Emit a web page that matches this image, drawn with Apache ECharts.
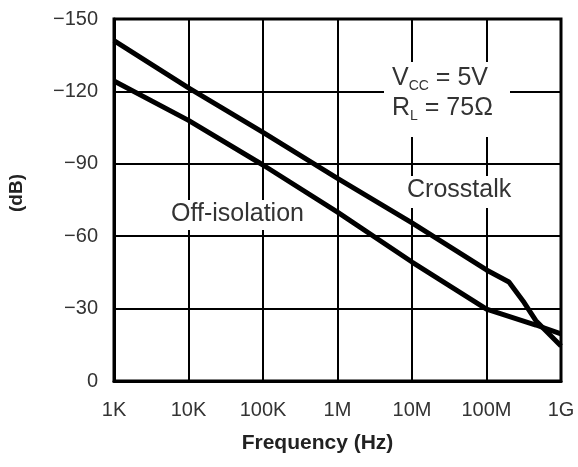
<!DOCTYPE html>
<html>
<head>
<meta charset="utf-8">
<script src="https://cdn.jsdelivr.net/npm/echarts@6/dist/echarts.min.js"></script>
<style>
html,body{margin:0;padding:0;background:#fff;}
#chart{width:578px;height:467px;}
</style>
</head>
<body>
<div id="chart"></div>
<script>
// Frequency (Hz) sample points and values (dB)
const crosstalkFreq = [1e3, 1e4, 1e5, 1e6, 1e7, 1e8, 2e8, 3.2e8, 4.6e8, 1e9];
const crosstalkDb   = [-141, -121.5, -103, -84, -65.5, -46, -41, -32.5, -25, -14.5];
const offIsoFreq = [1e3, 1e4, 1e5, 1e6, 1e7, 1e8, 4.6e8, 1e9];
const offIsoDb   = [-124.3, -108, -89.5, -70, -49.3, -29.8, -23.2, -19.5];
const xTickLabels = {1e3:'1K',1e4:'10K',1e5:'100K',1e6:'1M',1e7:'10M',1e8:'100M',1e9:'1G'};
const yTicks = [-150, -120, -90, -60, -30, 0];

const pair = (xs, ys) => xs.map((x, i) => [x, ys[i]]);
const FONT = "'Liberation Sans', Arial, sans-serif";
const chart = echarts.init(document.getElementById('chart'), null, {renderer:'canvas'});
chart.setOption({
  animation: false,
  backgroundColor: '#fff',
  grid: {left: 114, right: 17, top: 19, bottom: 86, show: true, borderColor: '#000', borderWidth: 3,
         containLabel: false, outerBoundsMode: 'none'},
  xAxis: {
    type: 'log', logBase: 10, min: 1e3, max: 1e9,
    name: 'Frequency (Hz)', nameLocation: 'middle', nameGap: 52,
    nameTextStyle: {fontFamily: FONT, fontSize: 21, fontWeight: 'bold', color: '#222', padding: [0, 40, 0, 0]},
    axisLine: {show: true, lineStyle: {color: '#000', width: 3}},
    axisTick: {show: false},
    splitLine: {show: true, lineStyle: {color: '#000', width: 2}},
    minorTick: {show: false}, minorSplitLine: {show: false},
    axisLabel: {
      fontFamily: FONT, fontSize: 20, color: '#333', margin: 19,
      formatter: v => xTickLabels[Math.round(v)] || ''
    }
  },
  yAxis: {
    type: 'value', min: -150, max: 0, interval: 30, inverse: true,
    name: '(dB)', nameLocation: 'middle', nameGap: 88,
    nameTextStyle: {fontFamily: FONT, fontSize: 19, fontWeight: 'bold', color: '#222', padding: [0, 0, 0, 14]},
    axisLine: {show: true, lineStyle: {color: '#000', width: 3}},
    axisTick: {show: false},
    splitLine: {show: true, lineStyle: {color: '#000', width: 2}},
    axisLabel: {
      fontFamily: FONT, fontSize: 20, color: '#333', margin: 16,
      formatter: v => yTicks.includes(v) ? (v < 0 ? '\u2212' + Math.abs(v) : String(v)) : ''
    }
  },
  series: [
    {name: 'Crosstalk', type: 'line', data: pair(crosstalkFreq, crosstalkDb), showSymbol: false, smooth: false,
     lineStyle: {color: '#000', width: 5}, z: 3},
    {name: 'Off-isolation', type: 'line', data: pair(offIsoFreq, offIsoDb), showSymbol: false, smooth: false,
     lineStyle: {color: '#000', width: 5}, z: 3}
  ],
  graphic: [
    {type: 'rect', z: 1, shape: {x: 384, y: 62, width: 126, height: 75}, style: {fill: '#fff'}},
    {type: 'text', z: 2, left: 392, top: 63, style: {
      rich: {
        m: {fontFamily: FONT, fontSize: 25, fill: '#333'},
        s: {fontFamily: FONT, fontSize: 14, fill: '#333', verticalAlign: 'bottom', padding: [11, 0, 0, 0]}
      },
      text: '{m|V}{s|CC}{m| = 5V}\n{m|R}{s|L}{m| = 75\u03A9}', lineHeight: 30, fill: '#333'
    }},
    {type: 'text', z: 2, left: 404, top: 176, style: {
      text: 'Crosstalk', fontFamily: FONT, fontSize: 25, fill: '#333',
      backgroundColor: '#fff', padding: [2, 3, 5, 3]
    }},
    {type: 'text', z: 2, left: 168, top: 200, style: {
      text: 'Off-isolation', fontFamily: FONT, fontSize: 25, fill: '#333',
      backgroundColor: '#fff', padding: [2, 3, 3, 3]
    }}
  ]
});
</script>
</body>
</html>
